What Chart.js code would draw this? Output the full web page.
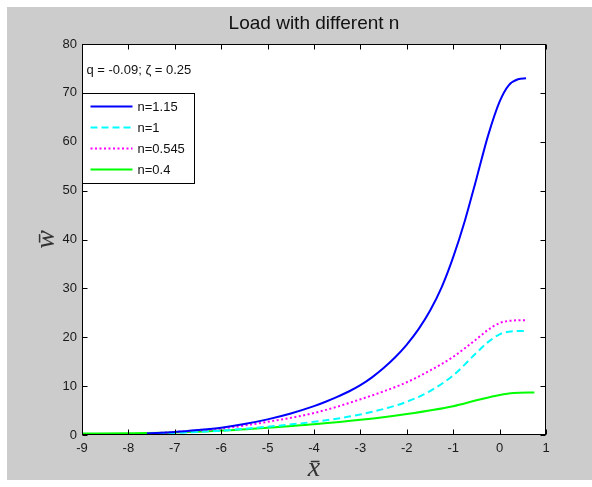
<!DOCTYPE html>
<html>
<head>
<meta charset="utf-8">
<script src="https://cdn.jsdelivr.net/npm/chart.js@4.4.1/dist/chart.umd.min.js"></script>
<style>
  html, body { margin: 0; padding: 0; background: #fff; }
  #wrap { position: relative; width: 592px; height: 487px; }
</style>
</head>
<body>
<div id="wrap"><canvas id="myChart" width="592" height="487"></canvas></div>
<script>
// deflection curves, one pair of arrays per n
var xN115 = [-7.6, -7, -6.5, -6, -5.5, -5, -4.5, -4, -3.75, -3.5, -3.25, -3, -2.75, -2.5, -2.25, -2, -1.75, -1.5, -1.25, -1, -0.75, -0.5, -0.25, 0, 0.2, 0.4, 0.57];
var yN115 = [0.3, 0.6, 1.0, 1.5, 2.25, 3.2, 4.4, 5.9, 6.8, 7.8, 8.9, 10.2, 11.8, 13.7, 15.9, 18.5, 21.6, 25.4, 30.2, 36.4, 43.8, 52.4, 61.2, 68.2, 71.6, 72.8, 73.0];

var xN1 = [-7.6, -7, -6, -5, -4, -3, -2, -1.5, -1, -0.5, -0.25, 0, 0.25, 0.6];
var yN1 = [0.2, 0.4, 0.9, 1.7, 2.7, 4.2, 6.8, 9.0, 12.2, 16.8, 19.0, 20.6, 21.2, 21.3];

var xN0545 = [-7.6, -7, -6, -5, -4, -3, -2, -1.5, -1, -0.5, -0.25, 0, 0.25, 0.6];
var yN0545 = [0.3, 0.6, 1.3, 2.7, 4.5, 7.3, 10.8, 13.2, 16.0, 19.6, 21.5, 22.9, 23.4, 23.5];

var xN04 = [-9, -8, -7, -6, -5, -4, -3, -2, -1, -0.5, 0, 0.3, 0.75];
var yN04 = [0.3, 0.35, 0.5, 0.9, 1.5, 2.2, 3.1, 4.3, 5.9, 7.1, 8.2, 8.6, 8.7];

var seriesNames = ['n=1.15', 'n=1', 'n=0.545', 'n=0.4'];
var chartTitle = 'Load with different n';
var paramText = 'q = -0.09; \u03b6 = 0.25';
var xMin = -9, xMax = 1, xStep = 1;
var yMin = 0, yMax = 80, yStep = 10;

function pts(xs, ys) {
  return xs.map(function (x, i) { return { x: x, y: ys[i] }; });
}

var sansFont = "'Liberation Sans', Arial, sans-serif";
Chart.defaults.font.family = sansFont;
Chart.defaults.color = '#1a1a1a';

// grey figure background, boxed axes with inward ticks, title, note and legend
var matlabLook = {
  id: 'matlabLook',
  beforeDraw: function (chart) {
    var ctx = chart.ctx, a = chart.chartArea;
    ctx.save();
    ctx.fillStyle = '#fff';
    ctx.fillRect(0, 0, chart.width, chart.height);
    ctx.fillStyle = '#cccccc';
    ctx.fillRect(7, 7, chart.width - 7, chart.height - 14);
    ctx.fillStyle = '#fff';
    ctx.fillRect(a.left, a.top, a.right - a.left, a.bottom - a.top);
    ctx.restore();
  },
  afterDraw: function (chart) {
    var ctx = chart.ctx, a = chart.chartArea;
    var xs = chart.scales.x, ys = chart.scales.y;
    var L = Math.round(a.left) + 0.5, R = Math.round(a.right) - 0.5;
    var T = Math.round(a.top) + 0.5, B = Math.round(a.bottom) - 0.5;
    ctx.save();
    ctx.strokeStyle = '#000';
    ctx.lineWidth = 1;
    ctx.setLineDash([]);
    ctx.strokeRect(L, T, R - L, B - T);
    ctx.beginPath();
    xs.ticks.forEach(function (t) {
      var p = Math.round(xs.getPixelForValue(t.value)) + 0.5;
      ctx.moveTo(p, B); ctx.lineTo(p, B - 5);
      ctx.moveTo(p, T); ctx.lineTo(p, T + 5);
    });
    ys.ticks.forEach(function (t) {
      var p = Math.round(ys.getPixelForValue(t.value)) + 0.5;
      ctx.moveTo(L, p); ctx.lineTo(L + 5, p);
      ctx.moveTo(R, p); ctx.lineTo(R - 5, p);
    });
    ctx.stroke();

    // title
    ctx.fillStyle = '#111';
    ctx.font = '19px ' + sansFont;
    ctx.textAlign = 'center';
    ctx.textBaseline = 'middle';
    ctx.fillText(chartTitle, (a.left + a.right) / 2, 24);

    // parameter note
    ctx.font = '13px ' + sansFont;
    ctx.textAlign = 'left';
    ctx.fillText(paramText, L + 4, 70);

    // legend box
    var bx = L, by = 93.5, bw = 112, bh = 90;
    ctx.fillStyle = '#fff';
    ctx.fillRect(bx, by, bw, bh);
    ctx.strokeRect(bx, by, bw, bh);
    chart.data.datasets.forEach(function (ds, i) {
      var ry = Math.round(by + 12 + i * 21.3) + 0.5;
      ctx.beginPath();
      ctx.strokeStyle = ds.borderColor;
      ctx.lineWidth = ds.borderWidth;
      ctx.setLineDash(ds.borderDash || []);
      ctx.moveTo(bx + 8, ry);
      ctx.lineTo(bx + 50, ry);
      ctx.stroke();
      ctx.setLineDash([]);
      ctx.fillStyle = '#111';
      ctx.fillText(ds.label, bx + 55, ry + 1);
    });
    ctx.restore();
  }
};

var lineBase = { pointRadius: 0, fill: false, borderWidth: 2, cubicInterpolationMode: 'monotone' };

var ctx = document.getElementById('myChart');
var myChart = new Chart(ctx, {
  type: 'line',
  data: {
    datasets: [
      Object.assign({ label: seriesNames[0], data: pts(xN115, yN115), borderColor: '#0000ff' }, lineBase),
      Object.assign({ label: seriesNames[1], data: pts(xN1, yN1), borderColor: '#00ffff', borderDash: [7, 4] }, lineBase),
      Object.assign({ label: seriesNames[2], data: pts(xN0545, yN0545), borderColor: '#ff00ff', borderDash: [2, 2.5] }, lineBase),
      Object.assign({ label: seriesNames[3], data: pts(xN04, yN04), borderColor: '#00ff00' }, lineBase)
    ]
  },
  options: {
    responsive: false,
    animation: false,
    layout: { padding: { left: 7, top: 44, right: 46, bottom: 7 } },
    plugins: { legend: { display: false }, tooltip: { enabled: false }, title: { display: false } },
    scales: {
      x: {
        type: 'linear',
        min: xMin, max: xMax,
        ticks: { stepSize: xStep, padding: 6, font: { size: 13 }, color: '#1a1a1a' },
        grid: { display: false, drawTicks: false },
        border: { display: false },
        title: {
          display: true, text: 'x\u0304',
          font: { family: "'Liberation Serif', 'DejaVu Serif', serif", style: 'italic', size: 28, lineHeight: 0.8 },
          padding: { top: 0, bottom: 0 }, color: '#333'
        },
        afterFit: function (scale) { scale.height = 45; }
      },
      y: {
        type: 'linear',
        min: yMin, max: yMax,
        ticks: { stepSize: yStep, padding: 5, font: { size: 13 }, color: '#1a1a1a' },
        grid: { display: false, drawTicks: false },
        border: { display: false },
        title: {
          display: true, text: 'w\u0304',
          font: { family: "'Liberation Serif', 'DejaVu Serif', serif", style: 'italic', size: 28, lineHeight: 1 },
          padding: { top: 26, bottom: 0 }, color: '#333'
        },
        afterFit: function (scale) { scale.width = 75; }
      }
    }
  },
  plugins: [matlabLook]
});
</script>
</body>
</html>
